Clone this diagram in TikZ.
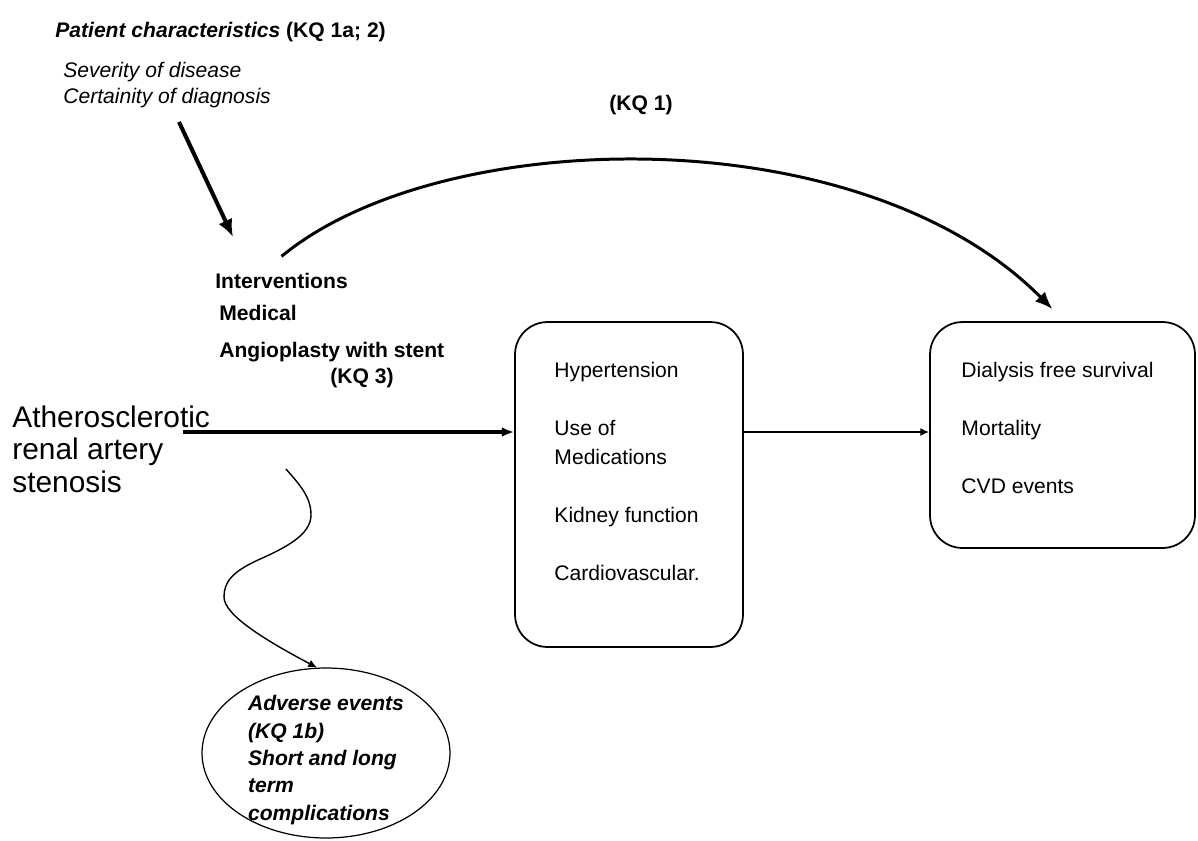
\documentclass[tikz,border=0pt]{standalone}
\usepackage{fontspec}
\setmainfont{Liberation Sans}
\usetikzlibrary{positioning}
\usetikzlibrary{shapes.geometric}
\usetikzlibrary{arrows.meta}

\begin{document}
\begin{tikzpicture}
    [
    x=0.02cm, y=-0.02cm,
    txt/.style={inner sep=0pt, font=\fontsize{12}{16.5}\selectfont},
    lines/.style={txt, align=left},
    outcome/.style={draw, line width=1pt, rounded corners=0.65cm, inner sep=0pt},
    heavyarrow/.style={line width=2.3pt, -{Latex[length=10pt,width=8.5pt]}},
    kqarc/.style={line width=1.7pt, -{Latex[length=10pt,width=8pt]}},
    mainarrow/.style={line width=2pt, -{Latex[length=7pt,width=5.5pt]}},
    thinarrow/.style={line width=0.8pt, -{Latex[length=5pt,width=4.5pt]}},
    ]
    \useasboundingbox (0,0) rectangle (1198,840);

    % patient characteristics
    \node (pc) at (55,37) [txt, anchor=base west]
      {\textbf{\textit{Patient characteristics}} \textbf{(KQ 1a; 2)}};
    \node (sev) at (63,62) [lines, anchor=north west, font=\fontsize{12}{14.8}\selectfont\itshape]
      {Severity of disease\\Certainity of diagnosis};
    \coordinate (pctail) at (179,122);
    \coordinate (pchead) at (233,237);
    \draw [heavyarrow] (pctail) -- (pchead);

    % interventions
    \node (int) at (215,288) [txt, anchor=base west, font=\fontsize{12}{16.5}\selectfont\bfseries] {Interventions};
    \node (med) at (219,320) [txt, anchor=base west, font=\fontsize{12}{16.5}\selectfont\bfseries] {Medical};
    \node (ang) at (219,357) [txt, anchor=base west, font=\fontsize{12}{16.5}\selectfont\bfseries] {Angioplasty with stent};
    \node (kq3) at (362,383) [txt, anchor=base, font=\fontsize{12}{16.5}\selectfont\bfseries] {(KQ 3)};
    \node (kq1) at (641,110) [txt, anchor=base, font=\fontsize{12}{16.5}\selectfont\bfseries] {(KQ 1)};

    % condition
    \node (ras) at (12,405) [lines, anchor=north west, font=\fontsize{17}{18.5}\selectfont]
      {Atherosclerotic\\renal artery\\stenosis};

    % outcome boxes
    \node (mid) at (629,484.5) [outcome, minimum width=4.56cm, minimum height=6.5cm] {};
    \node (midtxt) [lines, below right=0.82cm and 0.8cm of mid.north west]
      {Hypertension\\[16.5pt]Use of\\Medications\\[16.5pt]Kidney function\\[16.5pt]Cardiovascular.};
    \node (out) at (1062.5,435) [outcome, minimum width=5.3cm, minimum height=4.52cm] {};
    \node (outtxt) [lines, below right=0.82cm and 0.64cm of out.north west]
      {Dialysis free survival\\[16.5pt]Mortality\\[16.5pt]CVD events};

    % adverse events
    \node (adv) at (326,753) [ellipse, draw, line width=0.7pt, inner sep=0pt,
      minimum width=4.96cm, minimum height=3.4cm] {};
    \node (advtxt) at ([yshift=-0.14cm]adv.center)
      [lines, font=\fontsize{12}{15.6}\selectfont\bfseries\itshape]
      {Adverse events\\(KQ 1b)\\Short and long\\term\\complications};

    % connectors
    \coordinate (stem) at (183,432);
    \draw [mainarrow] (stem) -- (stem -| mid.west);
    \draw [thinarrow] (mid.east |- stem) -- (out.west |- stem);
    \draw [kqarc] ([yshift=0.32cm]int.north)
      .. controls (440,125) and (860,115) .. ([xshift=-0.2cm,yshift=0.24cm]out.north);
    \coordinate (wstart) at (286,469);
    \draw [thinarrow] (wstart) .. controls (300,485) and (311,497) .. (311,515)
      .. controls (311,535) and (285,548) .. (258,560)
      .. controls (232,572) and (224,582) .. (224,597)
      .. controls (224,615) and (265,640) .. (adv.96);
\end{tikzpicture}
\end{document}
